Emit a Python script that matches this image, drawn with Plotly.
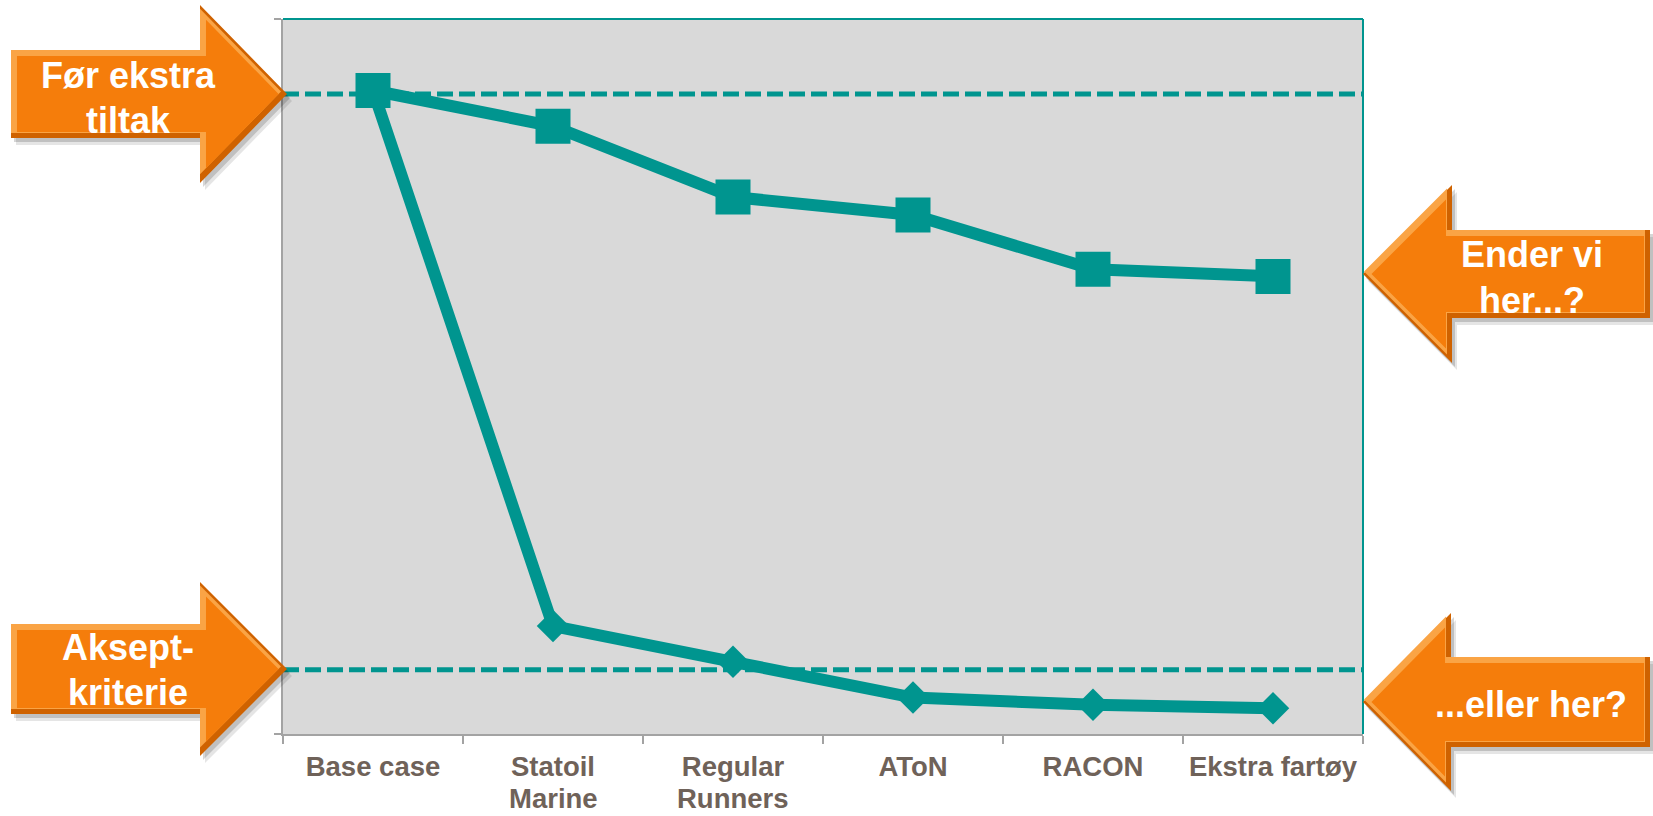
import math
import plotly.graph_objects as go

# Risk level per measure (relative scale 0-100)
categories = ["Base case", "Statoil Marine", "Regular Runners", "AToN", "RACON", "Ekstra fartøy"]
tick_labels = ["Base case", "Statoil", "Regular", "AToN", "RACON", "Ekstra fartøy"]
tick_labels_2nd = ["", "Marine", "Runners", "", "", ""]
upper_values = [90.0, 85.0, 75.1, 72.6, 65.0, 64.0]
lower_values = [90.0, 15.1, 10.1, 5.1, 4.1, 3.6]
level_before = 89.5   # "Før ekstra tiltak"
level_accept = 9.0    # "Aksept-kriterie"

TEAL = "#00958F"
AXIS_GREY = "#A3A3A3"
LABEL_COL = "#6F6259"
FONT = "Liberation Sans, Arial, sans-serif"
LABEL_SIZE = 27.5

W, H = 1653, 816
ML, MR, MT, MB = 283, 290, 19, 82
PW, PH = W - ML - MR, H - MT - MB


def to_paper(x, y):
    return (x - ML) / PW, (H - MB - y) / PH


def inset(pts, d):
    n = len(pts)
    area = sum(pts[i][0] * pts[(i + 1) % n][1] - pts[(i + 1) % n][0] * pts[i][1] for i in range(n))
    s = 1 if area > 0 else -1
    lines = []
    for i in range(n):
        (x1, y1), (x2, y2) = pts[i], pts[(i + 1) % n]
        dx, dy = x2 - x1, y2 - y1
        L = math.hypot(dx, dy)
        nx, ny = -dy / L * s, dx / L * s
        lines.append(((x1 + nx * d, y1 + ny * d), (dx, dy)))
    out = []
    for i in range(n):
        (p, r), (q, t) = lines[i - 1], lines[i]
        den = r[0] * t[1] - r[1] * t[0]
        u = ((q[0] - p[0]) * t[1] - (q[1] - p[1]) * t[0]) / den
        out.append((p[0] + u * r[0], p[1] + u * r[1]))
    return out


def shift(pts, dx, dy):
    return [(x + dx, y + dy) for x, y in pts]


def path(pts):
    pp = [to_paper(x, y) for x, y in pts]
    return "M" + " L".join(f"{x:.5f},{y:.5f}" for x, y in pp) + " Z"


def arrow_right(left, tip_x, head_x, tip_y, head_half, body_half):
    return [(left, tip_y - body_half), (head_x, tip_y - body_half), (head_x, tip_y - head_half),
            (tip_x, tip_y), (head_x, tip_y + head_half), (head_x, tip_y + body_half),
            (left, tip_y + body_half)]


def arrow_left(right, tip_x, head_x, tip_y, head_half, body_half):
    return [(right, tip_y - body_half), (right, tip_y + body_half), (head_x, tip_y + body_half),
            (head_x, tip_y + head_half), (tip_x, tip_y), (head_x, tip_y - head_half),
            (head_x, tip_y - body_half)]


# arrow outline, text lines, text centre x, centre y of each text line
arrows = [
    (arrow_right(11, 287, 200, 94, 89, 44), ["Før ekstra", "tiltak"], 128, [75, 120]),
    (arrow_right(11, 287, 200, 669, 87, 45), ["Aksept-", "kriterie"], 128, [647, 692]),
    (arrow_left(1650, 1363, 1452, 274, 89, 44), ["Ender vi", "her...?"], 1532, [255, 300]),
    (arrow_left(1650, 1363, 1451, 702, 89, 45), ["...eller her?"], 1531, [704]),
]

fig = go.Figure()

fig.add_trace(go.Scatter(
    x=categories, y=lower_values, mode="lines+markers",
    line=dict(color=TEAL, width=12),
    marker=dict(symbol="diamond", size=25, color=TEAL, line=dict(width=0)),
    showlegend=False, hoverinfo="skip",
))
fig.add_trace(go.Scatter(
    x=categories, y=upper_values, mode="lines+markers",
    line=dict(color=TEAL, width=12),
    marker=dict(symbol="square", size=35, color=TEAL, line=dict(width=0)),
    showlegend=False, hoverinfo="skip",
))

shapes = []
# reference levels
for lvl in (level_before, level_accept):
    shapes.append(dict(type="line", xref="paper", yref="y", x0=0, x1=1, y0=lvl, y1=lvl,
                       line=dict(color=TEAL, width=5, dash="16px,6px"), layer="below"))
# teal frame on top and right
shapes.append(dict(type="line", xref="paper", yref="paper", x0=0, x1=1, y0=1, y1=1,
                   line=dict(color=TEAL, width=2), layer="above"))
shapes.append(dict(type="line", xref="paper", yref="paper", x0=1, x1=1, y0=0, y1=1,
                   line=dict(color=TEAL, width=2), layer="above"))

annotations = []
for pts, lines, tx, tys in arrows:
    shapes.append(dict(type="path", xref="paper", yref="paper", path=path(shift(pts, 3, 4)),
                       fillcolor="rgba(0,0,0,0.16)", line=dict(width=0), layer="above"))
    shapes.append(dict(type="path", xref="paper", yref="paper", path=path(shift(pts, 5, 7)),
                       fillcolor="rgba(0,0,0,0.10)", line=dict(width=0), layer="above"))
    shapes.append(dict(type="path", xref="paper", yref="paper", path=path(pts),
                       fillcolor="#CF6200", line=dict(width=0), layer="above"))
    shapes.append(dict(type="path", xref="paper", yref="paper", path=path(shift(inset(pts, 2.5), -2.5, -2.5)),
                       fillcolor="#FAA445", line=dict(width=0), layer="above"))
    shapes.append(dict(type="path", xref="paper", yref="paper", path=path(inset(pts, 6)),
                       fillcolor="#F57D0B", line=dict(width=0), layer="above"))
    for text, ty in zip(lines, tys):
        ax, ay = to_paper(tx, ty)
        annotations.append(dict(x=ax, y=ay, xref="paper", yref="paper", text=text, showarrow=False,
                                xanchor="center", yanchor="middle", align="center",
                                font=dict(family=FONT, size=36, color="white", weight="bold")))

# second line of the two-line category labels, set a little tighter than <br> spacing
for cat, txt in zip(categories, tick_labels_2nd):
    if txt:
        annotations.append(dict(x=cat, xref="x", y=to_paper(0, 799)[1], yref="paper", text=txt,
                                showarrow=False, xanchor="center", yanchor="middle", borderpad=0,
                                font=dict(family=FONT, size=LABEL_SIZE, color=LABEL_COL, weight="bold")))

fig.update_layout(
    width=W, height=H, autosize=False,
    margin=dict(l=ML, r=MR, t=MT, b=MB, pad=0, autoexpand=False),
    paper_bgcolor="white", plot_bgcolor="#D9D9D9",
    font=dict(family=FONT),
    shapes=shapes, annotations=annotations,
    xaxis=dict(
        type="category", categoryorder="array", categoryarray=categories,
        range=[-0.5, len(categories) - 0.5],
        tickvals=categories, ticktext=tick_labels, tickson="boundaries",
        tickangle=0, automargin=False, ticklabelstandoff=7,
        ticks="outside", ticklen=8, tickwidth=2, tickcolor=AXIS_GREY,
        showline=True, linecolor=AXIS_GREY, linewidth=2,
        showgrid=False, zeroline=False,
        tickfont=dict(family=FONT, size=LABEL_SIZE, color=LABEL_COL, weight="bold"),
    ),
    yaxis=dict(
        range=[0, 100], tickvals=[0, 100], showticklabels=False, automargin=False,
        ticks="outside", ticklen=7, tickwidth=2, tickcolor=AXIS_GREY,
        showline=True, linecolor=AXIS_GREY, linewidth=2,
        showgrid=False, zeroline=False,
    ),
)

fig.write_html("out.html")
